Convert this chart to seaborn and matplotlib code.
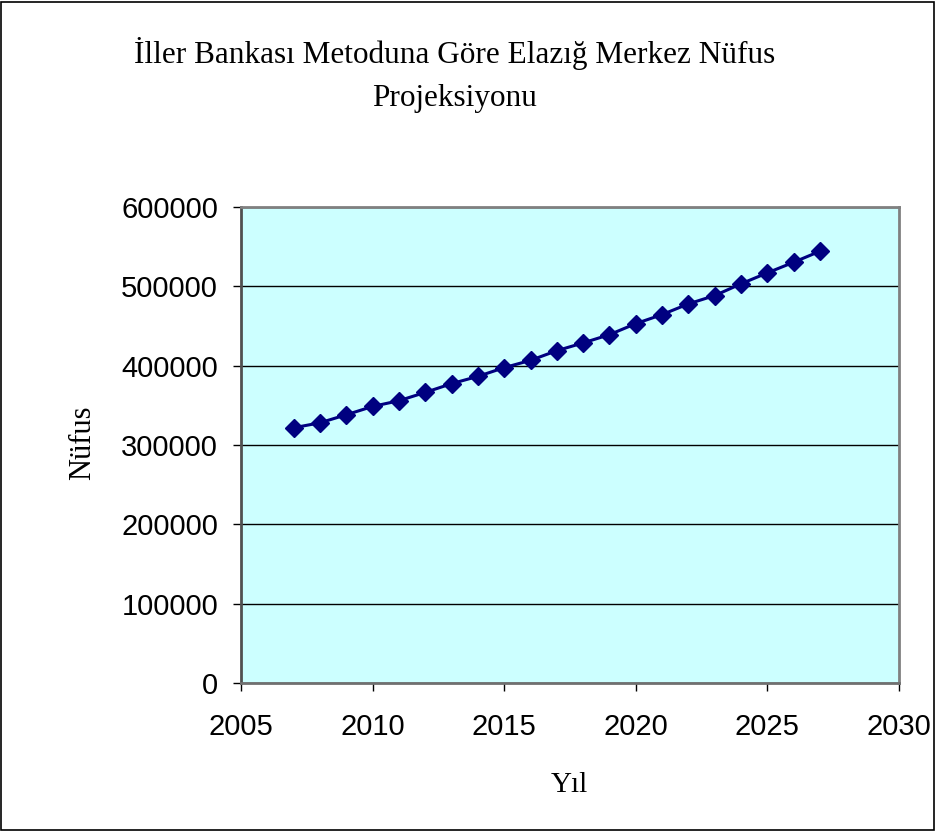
import matplotlib
matplotlib.use("Agg")
import matplotlib.pyplot as plt
import seaborn as sns
import pandas as pd
from matplotlib.patches import Rectangle

years = [2007, 2008, 2009, 2010, 2011, 2012, 2013, 2014, 2015, 2016, 2017,
         2018, 2019, 2020, 2021, 2022, 2023, 2024, 2025, 2026, 2027]
population = [321700, 328000, 338100, 348600, 355800, 366300, 377300, 386500,
              397500, 406700, 418900, 428700, 439100, 453000, 464400, 477900,
              488400, 503200, 517000, 530400, 544300]
x_ticks = [2005, 2010, 2015, 2020, 2025, 2030]
y_ticks = [0, 100000, 200000, 300000, 400000, 500000, 600000]
title = "İller Bankası Metoduna Göre Elazığ Merkez Nüfus\nProjeksiyonu"
x_label = "Yıl"
y_label = "Nüfus"

df = pd.DataFrame({"Yıl": years, "Nüfus": population})

sns.set_style("white")
plt.rcParams['font.family'] = ['Liberation Sans', 'DejaVu Sans']
plt.rcParams['text.color'] = 'black'
plt.rcParams['axes.labelcolor'] = 'black'
plt.rcParams['xtick.color'] = 'black'
plt.rcParams['ytick.color'] = 'black'

fig = plt.figure(figsize=(9.35, 8.32), dpi=100)
ax = fig.add_axes([241/935, 1-683/832, (899-241)/935, (683-207)/832])
ax.set_facecolor("#CCFFFF")

sns.lineplot(data=df, x="Yıl", y="Nüfus", ax=ax, color="#000080", linewidth=2.2,
             marker="D", markersize=9.5, markeredgecolor="#000080",
             markeredgewidth=1, zorder=3)

ax.set_xlim(2005, 2030)
ax.set_ylim(0, 600000)
ax.set_xticks(x_ticks)
ax.set_yticks(y_ticks)
ax.set_xticklabels([str(t) for t in x_ticks])
ax.set_yticklabels([str(t) for t in y_ticks])
ax.yaxis.grid(True, color="black", linewidth=1)
ax.xaxis.grid(False)
ax.set_axisbelow(True)
ax.tick_params(axis="both", direction="out", length=5.5, width=1, color="black",
               labelcolor="black", labelsize=21, bottom=True, left=True)
ax.tick_params(axis="x", pad=16)
ax.tick_params(axis="y", pad=11)
for name, s in ax.spines.items():
    s.set_linewidth(2)
    s.set_color("#808080")
ax.spines["left"].set_color("#505050")
ax.spines["bottom"].set_color("#707070")

ax.set_xlabel(x_label, fontsize=21, family=['Liberation Serif'], va="center",
              color="black")
ax.set_ylabel(y_label, fontsize=22, family=['Liberation Serif'], va="center",
              color="black")
ax.xaxis.set_label_coords(0.4985, -(785 - 683) / 476)
ax.yaxis.set_label_coords((83 - 241) / 658, (683 - 443) / 476)

fig.text(455/935, 1-75/832, title, ha="center", va="center", fontsize=22.5,
         family=['Liberation Serif'], linespacing=1.62, color="black")

fig.patches.append(Rectangle((0.0015, 0.002), 0.997, 0.996, transform=fig.transFigure,
                             fill=False, edgecolor="black", linewidth=1.2))

fig.savefig("out.png", dpi=100)
